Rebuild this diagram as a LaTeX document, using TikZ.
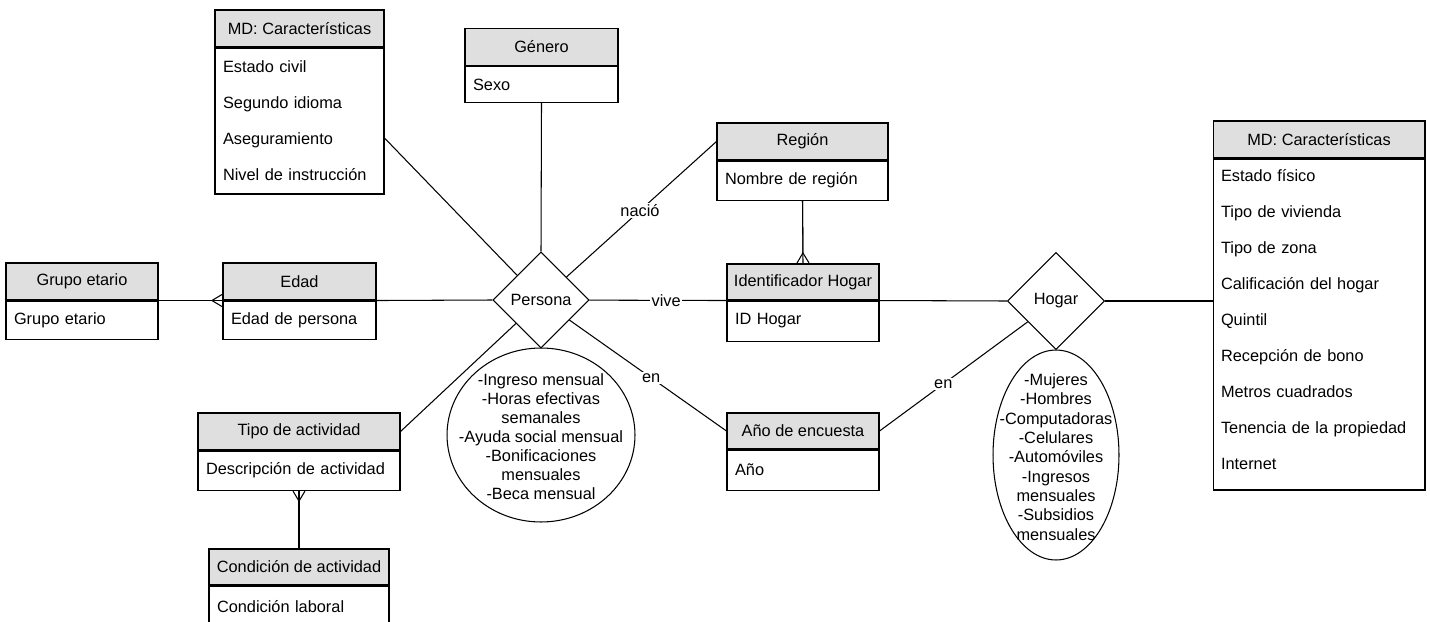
\documentclass[tikz,border=0pt]{standalone}
\usepackage{fontspec}
\setmainfont{Liberation Sans}
\usepackage{tikz}
\usetikzlibrary{arrows.meta, shapes.geometric}

\tikzset{
	every node/.style={font=\fontsize{9.3}{11}\selectfont},
	hdr/.style={draw, fill=gray!25, minimum height=0.74cm, inner sep=0pt},
	attr/.style={draw, anchor=north, align=left, minimum height=0.76cm, inner xsep=0.16cm, inner ysep=0pt},
	rows/.style={font=\fontsize{9.3}{20.5}\selectfont},
	rel/.style={draw, diamond, aspect=1, inner sep=0pt, fill=white},
	ellip/.style={draw, ellipse, inner sep=0pt},
	lbl/.style={fill=white, inner sep=1pt},
	many/.style={-{Straight Barb[reversed, length=0.2cm, width=0.24cm]}},
}

\begin{document}
\begin{tikzpicture}[x=0.02cm, y=-0.02cm, line width=0.6pt]
		\useasboundingbox (0,0) rectangle (1430,622);
		% Grupo etario
		\node[hdr, minimum width=3.04cm] (grupoh) at (82,281.5) {Grupo etario};
		\node[attr, text width=2.72cm] (grupob) at (grupoh.south) {Grupo etario};
		% Edad
		\node[hdr, minimum width=3.06cm] (edadh) at (299.5,281.5) {Edad};
		\node[attr, text width=2.74cm] (edadb) at (edadh.south) {Edad de persona};
		% MD: Caracteristicas (persona)
		\node[hdr, minimum width=3.38cm] (mdlh) at (299.5,28.5) {MD: Características};
		\node[attr, rows, text width=3.06cm, minimum height=2.92cm] (mdlb) at (mdlh.south)
			{Estado civil\\Segundo idioma\\Aseguramiento\\Nivel de instrucción};
		% Genero
		\node[hdr, minimum width=3.06cm] (generoh) at (541.5,47) {Género};
		\node[attr, text width=2.74cm, minimum height=0.72cm] (generob) at (generoh.south) {Sexo};
		% Region
		\node[hdr, minimum width=3.42cm] (regionh) at (802.5,141.5) {Región};
		\node[attr, text width=3.1cm, minimum height=0.78cm] (regionb) at (regionh.south) {Nombre de región};
		% Identificador Hogar
		\node[hdr, minimum width=3.04cm, minimum height=0.72cm] (idh) at (803,282) {Identificador Hogar};
		\node[attr, text width=2.72cm, minimum height=0.8cm] (idb) at (idh.south) {ID Hogar};
		% Anio de encuesta
		\node[hdr, minimum width=3.04cm, minimum height=0.72cm] (anioh) at (803,431) {Año de encuesta};
		\node[attr, text width=2.72cm, minimum height=0.8cm] (aniob) at (anioh.south) {Año};
		% Tipo de actividad
		\node[hdr, minimum width=4.04cm] (tipoh) at (299,431.5) {Tipo de actividad};
		\node[attr, text width=3.72cm, minimum height=0.78cm] (tipob) at (tipoh.south) {Descripción de actividad};
		% Condicion de actividad
		\node[hdr, minimum width=3.6cm, minimum height=0.72cm] (condh) at (299,567) {Condición de actividad};
		\node[attr, text width=3.28cm, minimum height=0.84cm] (condb) at (condh.south) {Condición laboral};
		% MD: Caracteristicas (hogar)
		\node[hdr, minimum width=4.24cm] (mdrh) at (1319,139.5) {MD: Características};
		\node[attr, rows, text width=3.92cm, minimum height=6.62cm] (mdrb) at (mdrh.south)
			{Estado físico\\Tipo de vivienda\\Tipo de zona\\Calificación del hogar\\Quintil\\Recepción de bono\\Metros cuadrados\\Tenencia de la propiedad\\Internet\\[-0.53cm]\mbox{}};
		
		% Relaciones
		\node[rel, minimum size=1.92cm] (persona) at (541,300) {Persona};
		\node[rel, minimum size=1.94cm] (hogar) at (1056,301) {Hogar};
		% Medidas
		\node[ellip, minimum width=3.76cm, minimum height=3.48cm] (pattr) at (541,435) {};
		\node[align=center, font=\fontsize{9.3}{10.8}\selectfont] (pattrtxt) at (541,437)
			{-Ingreso mensual\\-Horas efectivas\\semanales\\-Ayuda social mensual\\-Bonificaciones\\mensuales\\-Beca mensual};
		\node[ellip, minimum width=2.52cm, minimum height=4.2cm] (hattr) at (1056,455) {};
		\node[align=center, font=\fontsize{9.3}{11}\selectfont] (hattrtxt) at (1056,457)
			{-Mujeres\\-Hombres\\-Computadoras\\-Celulares\\-Automóviles\\-Ingresos\\mensuales\\-Subsidios\\mensuales};
		
		% Conectores
		\draw (grupoh.south east) -- (edadh.south west);
		\draw[many] (grupoh.south east) -- (edadh.south west);
		\draw (edadh.south east) -- (persona.west);
		\draw ([yshift=-0.34cm]mdlb.east) -- (persona);
		\draw (generob.south) -- (persona.north);
		\draw (persona) -- (regionh.west) node[lbl, pos=0.49] {nació};
		\draw (persona) -- (idh.south west) node[lbl, pos=0.56] {vive};
		\draw (persona) -- (anioh.west) node[lbl, pos=0.52] {en};
		\draw (persona) -- (tipoh.east);
		\draw (regionb.south) -- (idh.north);
		\draw[many] (regionb.south) -- (idh.north);
		\draw (condh.north) -- (tipob.south);
		\draw[many] (condh.north) -- (tipob.south);
		\draw (idh.south east) -- (hogar.west);
		\draw (anioh.east) -- (hogar) node[lbl, pos=0.43] {en};
		\draw (hogar.east) -- (hogar.east -| mdrh.west);
	\end{tikzpicture}
\end{document}
